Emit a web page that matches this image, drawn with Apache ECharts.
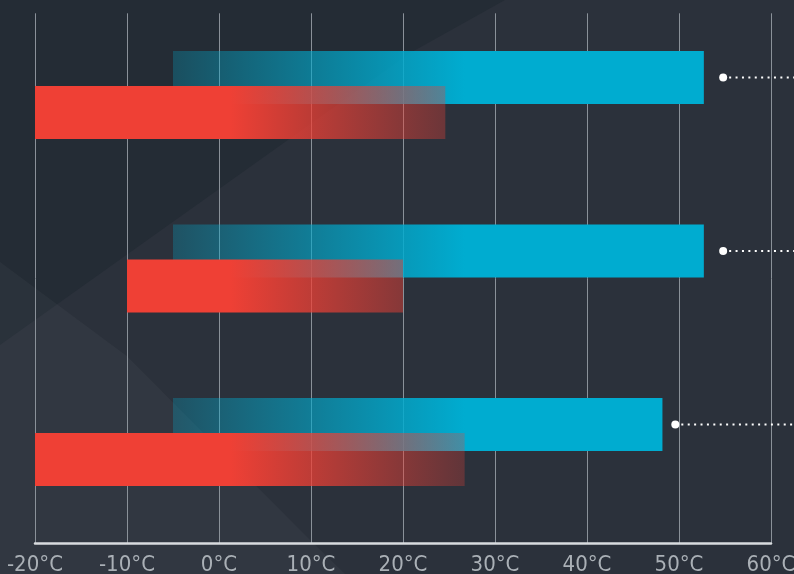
<!DOCTYPE html>
<html><head><meta charset="utf-8">
<script src="https://cdn.jsdelivr.net/npm/echarts@6/dist/echarts.min.js"></script>
<style>html,body{margin:0;padding:0;background:#2b313b}#c{width:794px;height:574px}</style>
</head><body><div id="c"></div>
<script>
// ---- data ----
const categories = ['Item 1', 'Item 2', 'Item 3'];
const blueStart = [-5, -5, -5];
const blueEnd = [52.7, 52.7, 48.2];
const redStart = [-20, -10, -20];
const redEnd = [24.6, 20, 26.7];
const markerValue = [54.8, 54.8, 49.6];
const axisMin = -20, axisMax = 60, axisStep = 10;

// ---- styling helpers ----
const BAR_W = 53, BAR_GAP = -0.34;
const blueRGB = '0,172,208', redRGB = '239,64,53';
const blueAlpha = [[-5, 0.27], [26.7, 1]];
const redAlpha = [[1.2, 1], [26.7, 0.27]];
function alphaAt(pts, v) {
  if (v <= pts[0][0]) return pts[0][1];
  for (let i = 1; i < pts.length; i++) {
    if (v <= pts[i][0]) {
      const t = (v - pts[i-1][0]) / (pts[i][0] - pts[i-1][0]);
      return pts[i-1][1] + t * (pts[i][1] - pts[i-1][1]);
    }
  }
  return pts[pts.length-1][1];
}
function grad(s, e, rgb, pts) {
  const stops = [{offset: 0, color: 'rgba(' + rgb + ',' + alphaAt(pts, s) + ')'}];
  pts.forEach(p => {
    if (p[0] > s && p[0] < e) stops.push({offset: (p[0]-s)/(e-s), color: 'rgba(' + rgb + ',' + p[1] + ')'});
  });
  stops.push({offset: 1, color: 'rgba(' + rgb + ',' + alphaAt(pts, e) + ')'});
  return new echarts.graphic.LinearGradient(0, 0, 1, 0, stops);
}
const blueOffset = -(BAR_W + BAR_W * BAR_GAP) / 2;

const chart = echarts.init(document.getElementById('c'), null, {renderer: 'canvas'});
const barCommon = {type: 'bar', xAxisIndex: 1, yAxisIndex: 1, barWidth: BAR_W, barGap: (BAR_GAP*100) + '%', stackStrategy: 'all', silent: true};
chart.setOption({
  backgroundColor: '#2b313b',
  animation: false,
  graphic: {elements: [
    {type: 'polygon', z: -10, silent: true, shape: {points: [[0,0],[505,0],[410,53],[0,345]]}, style: {fill: '#242c35'}},
    {type: 'polygon', z: -9, silent: true, shape: {points: [[0,262],[126.7,356],[310,540],[345,574],[0,574]]}, style: {fill: 'rgba(255,255,255,0.03)'}}
  ]},
  grid: [
    {left: 35, right: 23, top: 13.3, bottom: 30.7, outerBoundsMode: 'none', containLabel: false},
    {left: 35, right: 23, top: 8.3, height: 520.4, outerBoundsMode: 'none', containLabel: false}
  ],
  xAxis: [
    {gridIndex: 0, type: 'value', min: axisMin, max: axisMax, interval: axisStep,
     axisLine: {show: true, onZero: false, lineStyle: {color: '#d9dcdf', width: 2.5}},
     axisTick: {show: false},
     splitLine: {show: true, lineStyle: {color: '#8a9199', width: 1}},
     axisLabel: {formatter: '{value}°C', color: '#aab0b6', fontFamily: 'DejaVu Sans Condensed, sans-serif', fontSize: 22, margin: 11, hideOverlap: false}},
    {gridIndex: 1, type: 'value', min: axisMin, max: axisMax, show: false}
  ],
  yAxis: [
    {gridIndex: 0, type: 'value', show: false},
    {gridIndex: 1, type: 'category', data: categories, inverse: true, show: false}
  ],
  series: [
    Object.assign({}, barCommon, {name: 'blueBase', stack: 'blue', data: blueStart, itemStyle: {color: 'transparent'}}),
    Object.assign({}, barCommon, {name: 'blue', stack: 'blue',
      data: blueEnd.map((e, i) => ({value: e - blueStart[i], itemStyle: {color: grad(blueStart[i], e, blueRGB, blueAlpha)}}))}),
    Object.assign({}, barCommon, {name: 'redBase', stack: 'red', data: redStart, itemStyle: {color: 'transparent'}}),
    Object.assign({}, barCommon, {name: 'red', stack: 'red',
      data: redEnd.map((e, i) => ({value: e - redStart[i], itemStyle: {color: grad(redStart[i], e, redRGB, redAlpha)}}))}),
    {type: 'custom', xAxisIndex: 1, yAxisIndex: 1, silent: true, z: 5,
     data: markerValue.map((v, i) => [v, i]),
     renderItem: function (params, api) {
       const p = api.coord([api.value(0), api.value(1)]);
       const y = p[1] + blueOffset;
       return {type: 'group', children: [
         {type: 'line', shape: {x1: p[0] + 6, y1: y, x2: api.getWidth(), y2: y}, style: {stroke: '#ffffff', lineWidth: 2, lineDash: [2, 4.4]}},
         {type: 'circle', shape: {cx: p[0], cy: y, r: 4}, style: {fill: '#ffffff'}}
       ]};
     }}
  ]
});
</script>
</body></html>
